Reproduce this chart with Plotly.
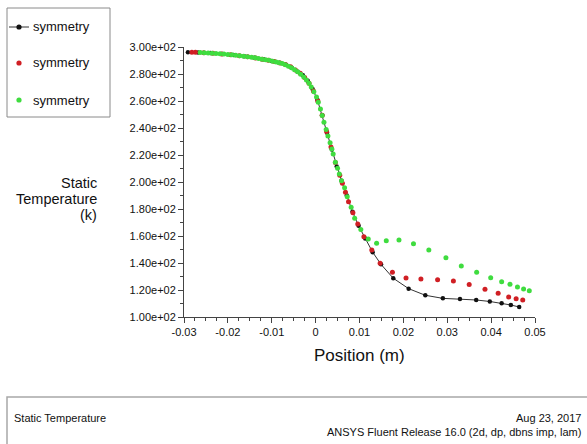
import plotly.graph_objects as go

# ---- data: static temperature along the symmetry line, three runs ----
x_black = [-0.0291, -0.0268, -0.0240, -0.0213, -0.0187, -0.0163, -0.0140, -0.0119,
           -0.0100, -0.0083, -0.0068, -0.0054, -0.0041, -0.0029, -0.0018, -0.0007,
           0.0004, 0.0015, 0.0026, 0.0037, 0.0048, 0.0059, 0.0071, 0.0084, 0.0098,
           0.0113, 0.0130, 0.0149, 0.0177, 0.0212, 0.0250, 0.0290, 0.0329, 0.0366,
           0.0397, 0.0424, 0.0445, 0.0464]
t_black = [296.2, 296.0, 295.6, 294.9, 294.1, 293.2, 292.1, 290.9,
           289.6, 288.3, 286.8, 284.5, 281.7, 279.0, 275.0, 268.8,
           261.0, 249.5, 236.5, 224.0, 211.5, 201.0, 190.0, 178.0, 167.5,
           158.2, 148.0, 139.0, 128.7, 121.0, 116.1, 113.8, 113.3, 112.6,
           111.5, 110.1, 108.9, 107.4]

x_red = [-0.0282, -0.0274, -0.0255, -0.0234, -0.0214, -0.0194, -0.0174, -0.0155,
         -0.0137, -0.0122, -0.0108, -0.0094, -0.0081, -0.0069, -0.0057, -0.0046,
         -0.0035, -0.0025, -0.0015, -0.0005, 0.0005, 0.0015, 0.0025, 0.0035,
         0.0045, 0.0055, 0.0061, 0.0068, 0.0075, 0.0085, 0.0096, 0.0110, 0.0128,
         0.0147, 0.0175, 0.0206, 0.0240, 0.0278, 0.0314, 0.0350, 0.0386, 0.0416,
         0.0440, 0.0457, 0.0472]
t_red = [296.2, 296.1, 295.8, 295.4, 294.9, 294.3, 293.6, 292.8,
         291.9, 291.0, 290.1, 289.2, 288.2, 287.0, 285.3, 283.0,
         280.5, 277.5, 273.2, 267.5, 260.0, 249.5, 237.5, 226.0,
         214.5, 205.0, 199.0, 192.5, 185.4, 177.3, 168.9, 159.5, 149.6,
         139.8, 133.1, 128.9, 128.1, 127.6, 126.7, 124.1, 120.5, 117.6,
         114.8, 113.6, 112.6]

x_green = [-0.0263, -0.0254, -0.0245, -0.0236, -0.0227, -0.0218, -0.0209, -0.0200,
           -0.0191, -0.0182, -0.0173, -0.0164, -0.0155, -0.0146, -0.0138, -0.0130,
           -0.0122, -0.0114, -0.0106, -0.0098, -0.0090, -0.0083, -0.0076, -0.0069,
           -0.0062, -0.0055, -0.0048, -0.0041, -0.0034, -0.0027, -0.0021, -0.0015,
           -0.0010, -0.0004, 0.0002, 0.0006, 0.0011, 0.0015, 0.0019, 0.0024,
           0.0028, 0.0033, 0.0037, 0.0040, 0.0045, 0.0050, 0.0054, 0.0059,
           0.0066, 0.0072, 0.0081, 0.0089, 0.0103, 0.0120, 0.0139, 0.0161,
           0.0190, 0.0223, 0.0258, 0.0297, 0.0332, 0.0367, 0.0399, 0.0424,
           0.0443, 0.0460, 0.0474, 0.0487]
t_green = [296.0, 295.8, 295.6, 295.4, 295.2, 295.0, 294.8, 294.5,
           294.2, 293.9, 293.6, 293.2, 292.8, 292.4, 292.0, 291.5,
           291.0, 290.6, 290.1, 289.5, 288.9, 288.3, 287.7, 286.9,
           285.8, 284.6, 283.2, 281.7, 279.8, 277.8, 275.6, 273.1,
           270.3, 266.9, 263.0, 259.0, 254.0, 249.2, 244.3, 238.8,
           234.0, 229.0, 224.5, 220.8, 214.6, 210.1, 205.9, 201.0,
           195.8, 189.1, 181.3, 173.1, 164.9, 157.8, 154.6, 156.5,
           157.0, 154.3, 149.6, 143.9, 137.8, 133.1, 129.1, 126.1,
           124.2, 122.2, 120.7, 119.5]

series_names = ["symmetry", "symmetry", "symmetry"]
y_tick_vals = [100, 120, 140, 160, 180, 200, 220, 240, 260, 280, 300]
y_tick_text = ["1.00e+02", "1.20e+02", "1.40e+02", "1.60e+02", "1.80e+02", "2.00e+02",
               "2.20e+02", "2.40e+02", "2.60e+02", "2.80e+02", "3.00e+02"]
x_tick_vals = [-0.03, -0.02, -0.01, 0, 0.01, 0.02, 0.03, 0.04, 0.05]
x_tick_text = ["-0.03", "-0.02", "-0.01", "0", "0.01", "0.02", "0.03", "0.04", "0.05"]

BLACK = "#111111"
RED = "#d01f24"
GREEN = "#3fdc3f"
FONT = "Liberation Sans, Arial, sans-serif"

# plot-area geometry in pixels (used to place the legend box and footer)
W, H = 587, 444
L, R, T, B = 184, 535, 47, 317


def px(xp):
    return (xp - L) / (R - L)


def py(yp):
    return (B - yp) / (B - T)


fig = go.Figure()
fig.add_trace(go.Scatter(x=x_black, y=t_black, mode="lines+markers", name=series_names[0],
                         line=dict(color="#333333", width=1),
                         marker=dict(color=BLACK, size=4.5), showlegend=False))
fig.add_trace(go.Scatter(x=x_red, y=t_red, mode="markers", name=series_names[1],
                         marker=dict(color=RED, size=5), showlegend=False))
fig.add_trace(go.Scatter(x=x_green, y=t_green, mode="markers", name=series_names[2],
                         marker=dict(color=GREEN, size=5), showlegend=False))

shapes = []
annotations = []

# legend box with the three entries
shapes.append(dict(type="rect", xref="paper", yref="paper",
                   x0=px(7), x1=px(110), y0=py(117), y1=py(8),
                   line=dict(color="#8a8a8a", width=1), fillcolor="white", layer="above"))
legend_rows = [27, 63, 100]
legend_colors = [BLACK, RED, GREEN]
rx, ry = 2.6 / (R - L), 2.6 / (B - T)
for i, (row, col) in enumerate(zip(legend_rows, legend_colors)):
    if i == 0:
        shapes.append(dict(type="line", xref="paper", yref="paper",
                           x0=px(9), x1=px(29), y0=py(row), y1=py(row),
                           line=dict(color="#333333", width=1), layer="above"))
    shapes.append(dict(type="circle", xref="paper", yref="paper",
                       x0=px(19) - rx, x1=px(19) + rx, y0=py(row) - ry, y1=py(row) + ry,
                       line=dict(width=0), fillcolor=col, layer="above"))
    annotations.append(dict(text=series_names[i], xref="paper", yref="paper",
                            x=px(31), y=py(row), xanchor="left", yanchor="middle",
                            showarrow=False, font=dict(family=FONT, size=13, color="#111")))

# y-axis title, three right-aligned lines
for txt, yc in [("Static", 183), ("Temperature", 199), ("(k)", 215)]:
    annotations.append(dict(text=txt, xref="paper", yref="paper", x=px(99), y=py(yc),
                            xanchor="right", yanchor="middle", showarrow=False,
                            font=dict(family=FONT, size=14.5, color="#111")))

# x-axis title
annotations.append(dict(text="Position (m)", xref="paper", yref="paper",
                        x=px(359), y=py(355), xanchor="center", yanchor="middle",
                        showarrow=False, font=dict(family=FONT, size=17, color="#111")))

# footer box
shapes.append(dict(type="rect", xref="paper", yref="paper",
                   x0=px(7), x1=px(600), y0=py(460), y1=py(397),
                   line=dict(color="#a8a8a8", width=1.5), fillcolor="rgba(0,0,0,0)"))
annotations.append(dict(text="Static Temperature", xref="paper", yref="paper",
                        x=px(12), y=py(418), xanchor="left", yanchor="middle",
                        showarrow=False, font=dict(family=FONT, size=11, color="#111")))
annotations.append(dict(text="Aug 23, 2017", xref="paper", yref="paper",
                        x=px(583), y=py(418), xanchor="right", yanchor="middle",
                        showarrow=False, font=dict(family=FONT, size=11, color="#111")))
annotations.append(dict(text="ANSYS Fluent Release 16.0 (2d, dp, dbns imp, lam)",
                        xref="paper", yref="paper", x=px(583), y=py(432),
                        xanchor="right", yanchor="middle",
                        showarrow=False, font=dict(family=FONT, size=11, color="#111")))

axis_common = dict(showgrid=False, zeroline=False, showline=True, linecolor="#444444",
                   linewidth=1, ticks="outside", ticklen=5, tickcolor="#444444",
                   tickfont=dict(family=FONT, size=11, color="#111"), mirror=False)

fig.update_layout(
    width=W, height=H,
    margin=dict(l=L, r=W - R, t=T, b=H - B),
    paper_bgcolor="white", plot_bgcolor="white",
    showlegend=False,
    shapes=shapes, annotations=annotations,
    xaxis=dict(range=[-0.03, 0.05], tickvals=x_tick_vals, ticktext=x_tick_text,
               minor=dict(dtick=0.0025, ticklen=3, ticks="outside", tickcolor="#444444"),
               **axis_common),
    yaxis=dict(range=[100, 300], tickvals=y_tick_vals, ticktext=y_tick_text,
               minor=dict(dtick=10, ticklen=3, ticks="outside", tickcolor="#444444"),
               **axis_common),
)

fig.write_html("out.html")
